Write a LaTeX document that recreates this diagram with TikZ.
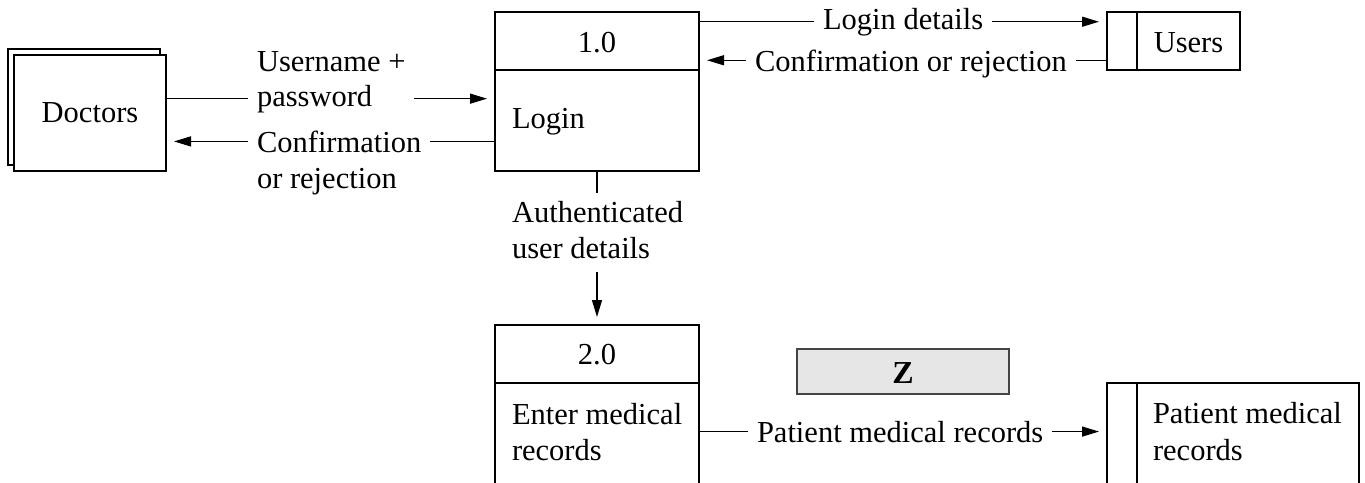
\documentclass[tikz,border=0pt]{standalone}
\usepackage{fontspec}
\setmainfont{Liberation Serif}
\usetikzlibrary{arrows.meta}
\definecolor{zfill}{HTML}{E6E6E6}
\definecolor{zline}{HTML}{444444}
\begin{document}
\begin{tikzpicture}[x=1pt,y=-1pt,line width=1.3pt,
  every node/.style={font=\fontsize{30.5}{36}\selectfont, inner sep=0pt, outer sep=0pt},
  box/.style={draw, fill=white, line width=1.3pt},
  lbl/.style={anchor=base west},
  ctr/.style={anchor=base},
  flow/.style={-{Triangle[length=17pt,width=10pt]}, line width=1.3pt, shorten >=8pt},
  gap/.style={shorten <=9pt}]
\clip (0,0) rectangle (1365,482);
\fill[white] (0,0) rectangle (1365,482);

% Doctors (external entity, double box)
\draw[box] (8,49) rectangle (160,165);
\node[box, minimum width=152pt, minimum height=116pt] (doc) at (90,113) {Doctors};

% Process 1.0
\node[box, minimum width=204pt, minimum height=159pt] (p1) at (597,91.5) {};
\draw ([yshift=-58pt]p1.north west) -- ([yshift=-58pt]p1.north east);
\node[ctr] (p1id) at (597,52) {1.0};
\node[lbl] (p1name) at (512,128) {Login};

% Users data store
\node[box, minimum width=133pt, minimum height=58pt] (us) at (1173.5,41) {};
\draw ([xshift=30pt]us.north west) -- ([xshift=30pt]us.south west);
\node[ctr] (usname) at (1188.5,52) {Users};

% Process 2.0
\node[box, minimum width=204pt, minimum height=200pt] (p2) at (597,425) {};
\draw ([yshift=-58pt]p2.north west) -- ([yshift=-58pt]p2.north east);
\node[ctr] (p2id) at (597,364) {2.0};
\node[lbl] (p2a) at (512,424) {Enter medical};
\node[lbl] (p2b) at (512,460) {records};

% Patient medical records data store
\node[box, minimum width=252pt, minimum height=150pt] (ps) at (1233,458) {};
\draw ([xshift=30pt]ps.north west) -- ([xshift=30pt]ps.south west);
\node[lbl] (psa) at (1153,423) {Patient medical};
\node[lbl] (psb) at (1153,460) {records};

% Z box
\node[draw=zline, fill=zfill, line width=1.3pt, minimum width=212pt, minimum height=45pt] (z) at (903,371.5) {};
\node[ctr, font=\fontsize{32}{36}\selectfont\bfseries] (zt) at (903,383) {Z};

% Flow labels
\node[lbl] (un) at (257,71) {Username +};
\node[lbl] (pw) at (257,106) {password};
\node[lbl] (cf) at (257,152) {Confirmation};
\node[lbl] (orj) at (257,188) {or rejection};
\node[lbl] (ld) at (823,29) {Login details};
\node[lbl, text depth=0pt] (cr) at (755,71) {Confirmation or rejection};
\node[lbl] (au) at (512,222) {Authenticated};
\node[lbl] (ud) at (512,258) {user details};
\node[lbl] (pm) at (757,442) {Patient medical records};

% Doctors -> Login
\draw[shorten >=9pt] (doc.east |- pw.west) -- (un.west |- pw.west);
\draw[flow, gap] (un.east |- pw.west) -- (p1.west |- pw.west);
% Login -> Doctors
\draw[shorten >=9pt] (p1.west |- cf.east) -- (cf.east);
\draw[flow, gap] (cf.west) -- (doc.east |- cf.west);
% Login -> Users
\draw[shorten >=9pt] (p1.east |- ld.west) -- (ld.west);
\draw[flow, gap] (ld.east) -- (us.west |- ld.east);
% Users -> Login
\draw[shorten >=9pt] (us.west |- cr.east) -- (cr.east);
\draw[flow, gap] (cr.west) -- (p1.east |- cr.west);
% Login -> Enter medical records
\draw[shorten >=8pt] (p1.south) -- (p1.south |- au.north);
\draw[flow, shorten <=14pt] (p1.south |- ud.south) -- (p2.north);
% Enter medical records -> Patient medical records
\draw[shorten >=9pt] (p2.east |- pm.west) -- (pm.west);
\draw[flow, gap] (pm.east) -- (ps.west |- pm.east);
\end{tikzpicture}
\end{document}
